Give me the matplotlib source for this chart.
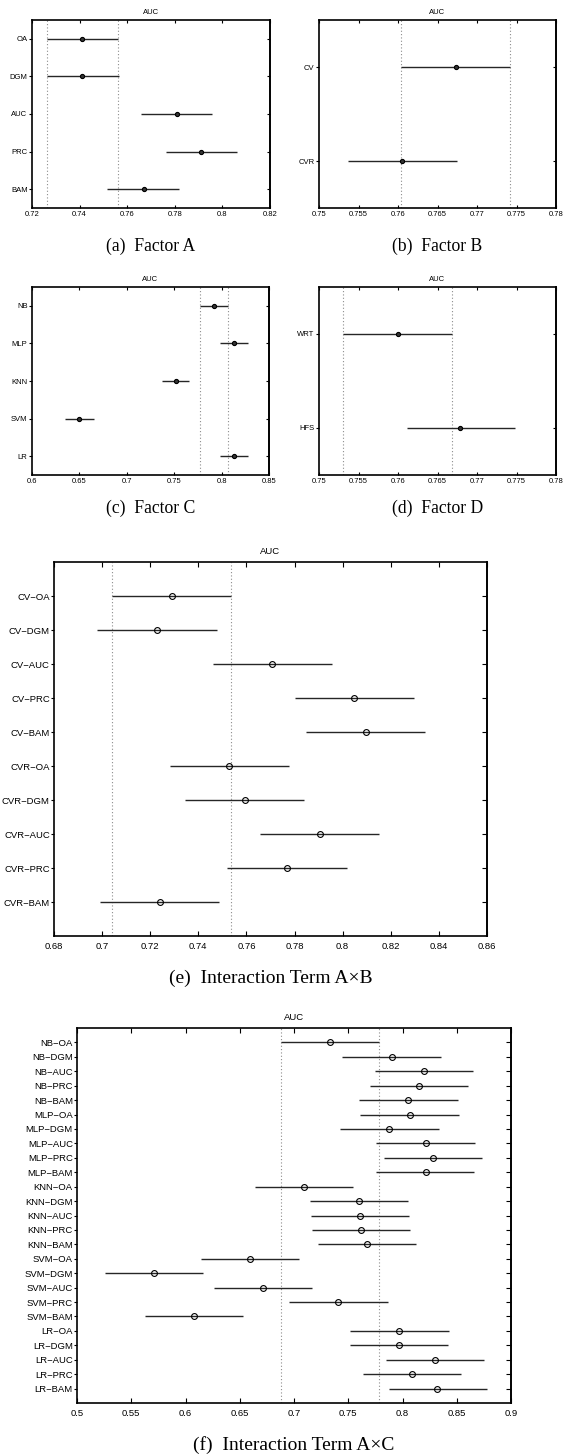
import matplotlib
matplotlib.use("Agg")
import matplotlib.pyplot as plt

plt.rcParams["font.family"] = ["Liberation Sans", "DejaVu Sans"]

# (a) Factor A
a_labels = ["OA", "DGM", "AUC", "PRC", "BAM"]
a_mean = [0.7410, 0.7412, 0.7808, 0.7910, 0.7669]
a_lo = [0.7261, 0.7262, 0.7659, 0.7761, 0.7517]
a_hi = [0.7562, 0.7564, 0.7958, 0.8060, 0.7819]

# (b) Factor B
b_labels = ["CV", "CVR"]
b_mean = [0.7673, 0.7605]
b_lo = [0.7604, 0.7537]
b_hi = [0.7742, 0.7675]

# (c) Factor C
c_labels = ["NB", "MLP", "KNN", "SVM", "LR"]
c_mean = [0.7921, 0.8128, 0.7515, 0.6498, 0.8128]
c_lo = [0.7771, 0.7978, 0.7371, 0.6347, 0.7978]
c_hi = [0.8072, 0.8279, 0.7655, 0.6649, 0.8279]

# (d) Factor D
d_labels = ["WRT", "HFS"]
d_mean = [0.7600, 0.7679]
d_lo = [0.7530, 0.7611]
d_hi = [0.7668, 0.7748]

# (e) Interaction A x B
e_labels = ["CV−OA", "CV−DGM", "CV−AUC", "CV−PRC", "CV−BAM",
            "CVR−OA", "CVR−DGM", "CVR−AUC", "CVR−PRC", "CVR−BAM"]
e_mean = [0.7289, 0.7229, 0.7708, 0.8049, 0.8096,
          0.7527, 0.7593, 0.7905, 0.7768, 0.7240]
e_lo = [0.7041, 0.6980, 0.7461, 0.7801, 0.7848,
        0.7281, 0.7346, 0.7657, 0.7520, 0.6991]
e_hi = [0.7537, 0.7477, 0.7956, 0.8295, 0.8343,
        0.7775, 0.7840, 0.8151, 0.8016, 0.7485]

# (f) Interaction A x C
f_labels = ["NB−OA", "NB−DGM", "NB−AUC", "NB−PRC", "NB−BAM",
            "MLP−OA", "MLP−DGM", "MLP−AUC", "MLP−PRC", "MLP−BAM",
            "KNN−OA", "KNN−DGM", "KNN−AUC", "KNN−PRC", "KNN−BAM",
            "SVM−OA", "SVM−DGM", "SVM−AUC", "SVM−PRC", "SVM−BAM",
            "LR−OA", "LR−DGM", "LR−AUC", "LR−PRC", "LR−BAM"]
f_mean = [0.7329, 0.7902, 0.8197, 0.8154, 0.8052,
          0.8065, 0.7877, 0.8215, 0.8280, 0.8212,
          0.7089, 0.7600, 0.7609, 0.7615, 0.7674,
          0.6591, 0.5711, 0.6711, 0.7409, 0.6080,
          0.7969, 0.7966, 0.8299, 0.8089, 0.8320]
f_lo = [0.6877, 0.7446, 0.7745, 0.7699, 0.7600,
        0.7612, 0.7425, 0.7760, 0.7831, 0.7760,
        0.6637, 0.7151, 0.7157, 0.7163, 0.7222,
        0.6142, 0.5259, 0.6259, 0.6957, 0.5628,
        0.7520, 0.7517, 0.7849, 0.7637, 0.7874]
f_hi = [0.7782, 0.8351, 0.8649, 0.8603, 0.8508,
        0.8517, 0.8332, 0.8668, 0.8735, 0.8662,
        0.7542, 0.8055, 0.8062, 0.8065, 0.8126,
        0.7046, 0.6163, 0.7163, 0.7862, 0.6529,
        0.8425, 0.8419, 0.8751, 0.8542, 0.8775]

W, H = 574, 1456
fig = plt.figure(figsize=(W / 100, H / 100), dpi=100)


def px_axes(x0, y0, x1, y1):
    return fig.add_axes([x0 / W, 1 - y1 / H, (x1 - x0) / W, (y1 - y0) / H])


def draw_panel(box, labels, mean, lo, hi, xlim, xticks, xticklabels, big, caption, cap_y):
    ax = px_axes(*box)
    n = len(labels)
    y = list(range(1, n + 1))
    fs = 6.8 if big else 5.5
    ms = 4.2 if big else 3.0
    margin = 1.0 if big else 0.5

    # reference interval of the first group
    ax.axvline(lo[0], color="#8c8c8c", lw=0.8, ls=(0, (1, 2)))
    ax.axvline(hi[0], color="#8c8c8c", lw=0.8, ls=(0, (1, 2)))

    ax.hlines(y, lo, hi, color="#262626", lw=1.0)
    if big:
        ax.plot(mean, y, "o", ms=ms, mfc="none", mec="black", mew=0.8)
    else:
        ax.plot(mean, y, "o", ms=ms, mfc="#333333", mec="black", mew=0.8)

    ax.set_xlim(*xlim)
    ax.set_ylim(n + margin, 1 - margin)
    ax.set_xticks(xticks)
    ax.set_xticklabels(xticklabels, fontsize=fs)
    ax.set_yticks(y)
    ax.set_yticklabels(labels, fontsize=fs)
    tl = 3.5 if big else 2.2
    ax.tick_params(axis="x", direction="in", top=True, length=tl, width=0.8,
                   pad=4.3 if big else 2.5)
    ax.tick_params(axis="y", direction="out", right=False, length=2, width=0.8,
                   pad=1.0 if big else 1.2)
    sec = ax.secondary_yaxis("right")
    sec.set_yticks(y)
    sec.tick_params(direction="in", length=tl, width=0.8, labelright=False)
    sec.spines["right"].set_linewidth(1.2)
    for s in ax.spines.values():
        s.set_linewidth(1.2)
    ax.set_title("AUC", fontsize=fs, pad=6 if big else 4)

    cx = (box[0] + box[2]) / 2 / W
    fig.text(cx, 1 - cap_y / H, caption, ha="center", va="center",
             fontsize=14 if big else 12.7, family=["Liberation Serif", "DejaVu Serif"])
    return ax


draw_panel((32, 20, 270, 208), a_labels, a_mean, a_lo, a_hi, (0.72, 0.82),
           [0.72, 0.74, 0.76, 0.78, 0.80, 0.82], ["0.72", "0.74", "0.76", "0.78", "0.8", "0.82"],
           False, "(a)  Factor A", 246)
draw_panel((319, 20, 556, 208), b_labels, b_mean, b_lo, b_hi, (0.75, 0.78),
           [0.75, 0.755, 0.76, 0.765, 0.77, 0.775, 0.78],
           ["0.75", "0.755", "0.76", "0.765", "0.77", "0.775", "0.78"],
           False, "(b)  Factor B", 246)
draw_panel((32, 287, 269, 475), c_labels, c_mean, c_lo, c_hi, (0.6, 0.85),
           [0.6, 0.65, 0.7, 0.75, 0.8, 0.85], ["0.6", "0.65", "0.7", "0.75", "0.8", "0.85"],
           False, "(c)  Factor C", 508)
draw_panel((319, 287, 556, 475), d_labels, d_mean, d_lo, d_hi, (0.75, 0.78),
           [0.75, 0.755, 0.76, 0.765, 0.77, 0.775, 0.78],
           ["0.75", "0.755", "0.76", "0.765", "0.77", "0.775", "0.78"],
           False, "(d)  Factor D", 508)
draw_panel((54, 562, 487, 936), e_labels, e_mean, e_lo, e_hi, (0.68, 0.86),
           [0.68, 0.70, 0.72, 0.74, 0.76, 0.78, 0.80, 0.82, 0.84, 0.86],
           ["0.68", "0.7", "0.72", "0.74", "0.76", "0.78", "0.8", "0.82", "0.84", "0.86"],
           True, "(e)  Interaction Term A×B", 978)
draw_panel((77, 1028, 511, 1403), f_labels, f_mean, f_lo, f_hi, (0.5, 0.9),
           [0.5, 0.55, 0.6, 0.65, 0.7, 0.75, 0.8, 0.85, 0.9],
           ["0.5", "0.55", "0.6", "0.65", "0.7", "0.75", "0.8", "0.85", "0.9"],
           True, "(f)  Interaction Term A×C", 1445)

fig.savefig("out.png", dpi=100)
